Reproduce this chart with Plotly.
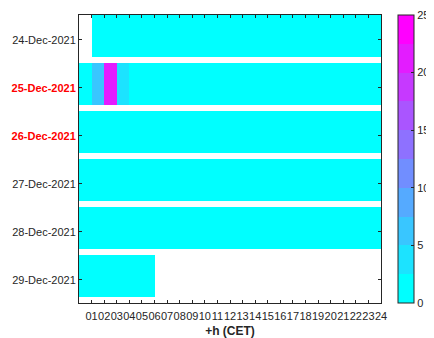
import plotly.graph_objects as go

# ---------------- data ----------------
days = ["24-Dec-2021", "25-Dec-2021", "26-Dec-2021", "27-Dec-2021", "28-Dec-2021", "29-Dec-2021"]
holidays = ["25-Dec-2021", "26-Dec-2021"]
hour_labels = ["01", "02", "03", "04", "05", "06", "07", "08", "09", "10", "11", "12",
               "13", "14", "15", "16", "17", "18", "19", "20", "21", "22", "23", "24"]
hour_ticks = [1, 2, 3, 4, 5, 6, 7, 8, 9, 10, 11, 12, 13, 14, 15, 16, 17, 18, 19, 20, 21, 22, 23, 24]

d24 = [None, 0, 0, 0, 0, 0, 0, 0, 0, 0, 0, 0, 0, 0, 0, 0, 0, 0, 0, 0, 0, 0, 0, 0]
d25 = [0, 6, 21, 3, 0, 0, 0, 0, 0, 0, 0, 0, 0, 0, 0, 0, 0, 0, 0, 0, 0, 0, 0, 0]
d26 = [0, 0, 0, 0, 0, 0, 0, 0, 0, 0, 0, 0, 0, 0, 0, 0, 0, 0, 0, 0, 0, 0, 0, 0]
d27 = [0, 0, 0, 0, 0, 0, 0, 0, 0, 0, 0, 0, 0, 0, 0, 0, 0, 0, 0, 0, 0, 0, 0, 0]
d28 = [0, 0, 0, 0, 0, 0, 0, 0, 0, 0, 0, 0, 0, 0, 0, 0, 0, 0, 0, 0, 0, 0, 0, 0]
d29 = [0, 0, 0, 0, 0, 0, None, None, None, None, None, None, None, None, None, None,
       None, None, None, None, None, None, None, None]
day_rows = [d24, d25, d26, d27, d28, d29]

cbar_ticks = [0, 5, 10, 15, 20, 25]

# ---------------- layout helpers ----------------
ZMIN, ZMAX, NB = 0, 25, 10
TOP, BOT = -0.52, 0.355   # block extent relative to row tick
ncols = len(day_rows[0])

# discrete "cool" colorscale
cs = []
for i in range(NB):
    r = i / (NB - 1)
    col = "rgb(%d,%d,255)" % (round(255 * r), round(255 * (1 - r)))
    cs.append([i / NB, col])
    cs.append([(i + 1) / NB, col])

# build z with gap rows between days
z = []
yedges = []
for i, row in enumerate(day_rows):
    yedges.append(i + TOP)
    yedges.append(i + BOT)
    z.append(row)
    if i < len(day_rows) - 1:
        z.append([None] * ncols)
yedges = yedges[:2 * len(day_rows)]
xedges = list(range(ncols + 1))

ticktext = []
for d in days:
    if d in holidays:
        ticktext.append("<b><span style='color:#ff0000'>%s</span></b>" % d)
    else:
        ticktext.append(d)

FONT = "Liberation Sans, Arial, sans-serif"
AX = "#262626"
FS = 11

fig = go.Figure(go.Heatmap(
    z=z, x=xedges, y=yedges,
    colorscale=cs, zmin=ZMIN, zmax=ZMAX,
    hoverongaps=False,
    colorbar=dict(
        x=(398 - 79) / 302, xanchor="left", xpad=0,
        y=0.5, yanchor="middle", len=1, lenmode="fraction", ypad=0,
        thickness=16, thicknessmode="pixels",
        outlinecolor=AX, outlinewidth=1,
        tickvals=cbar_ticks, ticks="inside", ticklen=3, tickcolor=AX,
        tickfont=dict(family=FONT, size=FS, color=AX),
    ),
))

# page body has an 8px default margin; figure is sized to fit the window
fig.update_layout(
    width=426, height=330,
    margin=dict(l=71, r=53, t=7, b=35, autoexpand=False),
    paper_bgcolor="white", plot_bgcolor="white",
    font=dict(family=FONT, size=FS, color=AX),
    xaxis=dict(
        range=[0, ncols], tickvals=hour_ticks, ticktext=hour_labels,
        tickangle=0, ticks="inside", ticklen=3, tickcolor=AX,
        showline=True, linecolor=AX, linewidth=1, mirror="ticks",
        showgrid=False, zeroline=False, automargin=False,
        ticklabelstandoff=3,
        tickfont=dict(family=FONT, size=FS, color=AX),
        title=dict(text="<b>+h (CET)</b>", font=dict(family=FONT, size=12, color=AX), standoff=9),
    ),
    yaxis=dict(
        range=[len(days) - 1 + 0.48, TOP], tickvals=list(range(len(days))), ticktext=ticktext,
        ticks="inside", ticklen=3, tickcolor=AX,
        showline=True, linecolor=AX, linewidth=1, mirror="ticks",
        showgrid=False, zeroline=False, automargin=False,
        tickfont=dict(family=FONT, size=FS, color=AX),
    ),
)

fig.write_html("out.html")
